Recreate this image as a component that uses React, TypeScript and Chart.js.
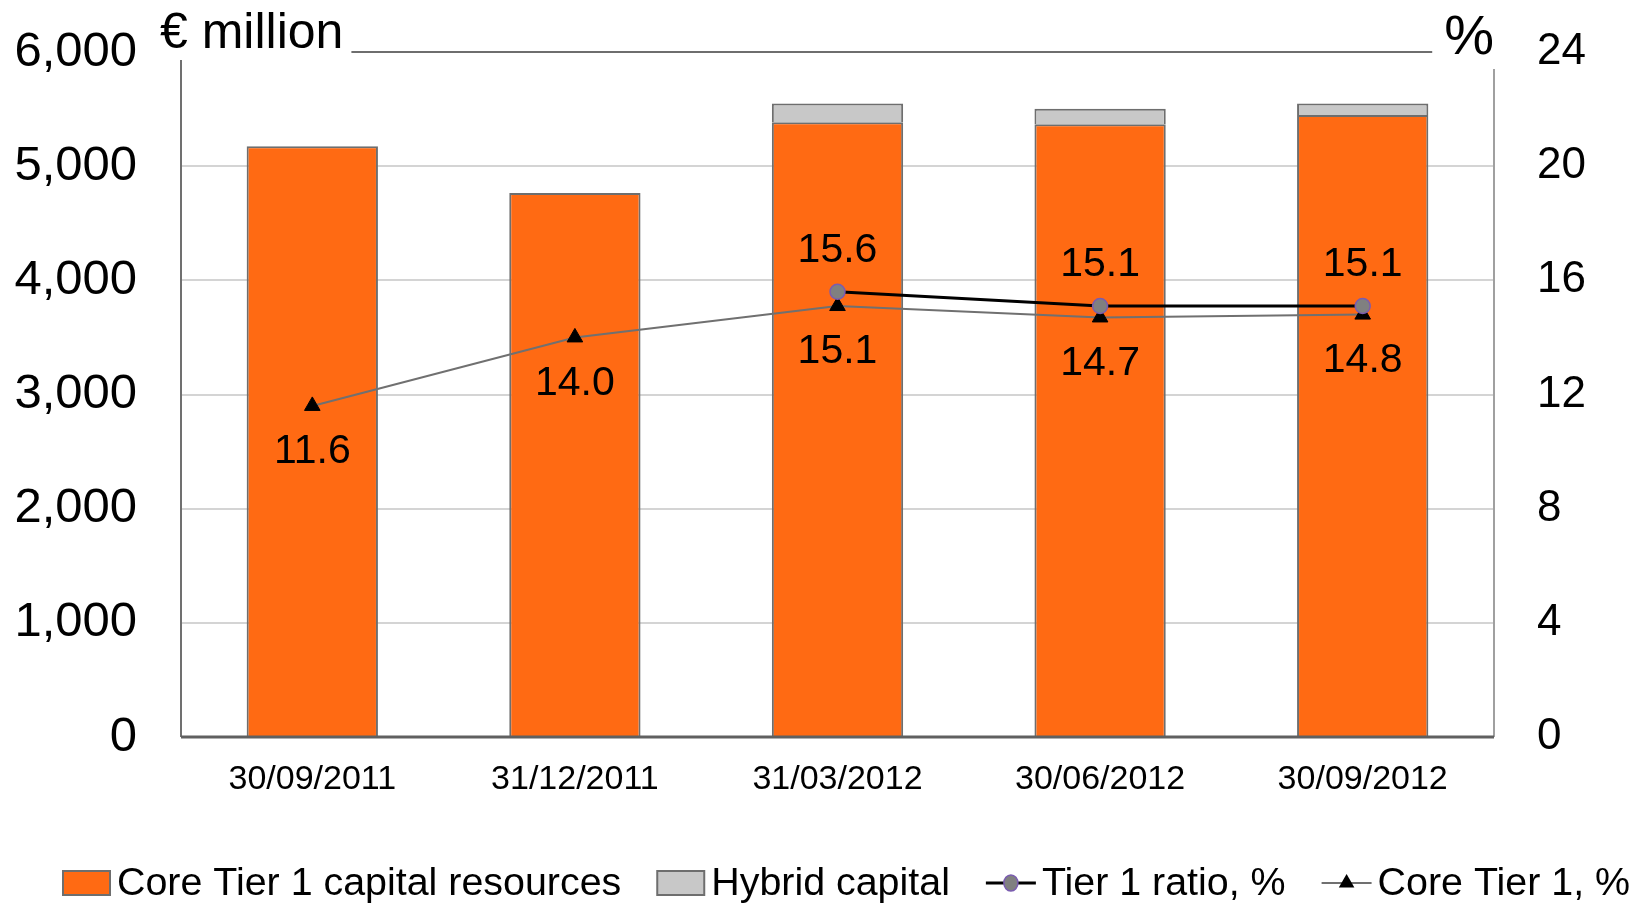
import React, { useEffect, useRef } from 'react';
import { Chart, registerables } from 'chart.js';

Chart.register(...registerables);

const categories = ['30/09/2011', '31/12/2011', '31/03/2012', '30/06/2012', '30/09/2012'];
const coreTier1Capital = [5175, 4765, 5385, 5368, 5449];
const hybridCapital = [null, null, 164, 134, 100];
const tier1Ratio = [null, null, 15.6, 15.1, 15.1];
const coreTier1Ratio = [11.6, 14.0, 15.1, 14.7, 14.8];
const leftAxis = { min: 0, max: 6000, step: 1000 };
const rightAxis = { min: 0, max: 24, step: 4 };
const leftTitle = '€ million';
const rightTitle = '%';

const FONT = '"Liberation Sans", Arial, sans-serif';
const ORANGE = '#FF6A13';
const HYBRID = '#C8C8C8';
const EDGE = '#6E6E6E';

const overlayPlugin = {
  id: 'overlay',
  afterDatasetsDraw(chart: any) {
    const ctx = chart.ctx;
    const area = chart.chartArea;
    const y = chart.scales.y;
    ctx.save();
    // axis borders
    ctx.strokeStyle = '#707070';
    ctx.lineWidth = 2;
    ctx.beginPath();
    ctx.moveTo(area.left, area.top + 8);
    ctx.lineTo(area.left, area.bottom);
    ctx.stroke();
    ctx.strokeStyle = '#A0A0A0';
    ctx.beginPath();
    ctx.moveTo(area.right, area.top + 17);
    ctx.lineTo(area.right, area.bottom);
    ctx.stroke();
    ctx.strokeStyle = '#606060';
    ctx.lineWidth = 3;
    ctx.beginPath();
    ctx.moveTo(area.left, area.bottom);
    ctx.lineTo(area.right, area.bottom);
    ctx.stroke();

    // titles + top line
    const topY = y.getPixelForValue(leftAxis.max);
    ctx.fillStyle = '#000';
    ctx.textBaseline = 'alphabetic';
    ctx.font = `50px ${FONT}`;
    ctx.textAlign = 'left';
    const ltX = area.left - 21;
    ctx.fillText(leftTitle, ltX, topY - 4);
    const ltW = ctx.measureText(leftTitle).width;
    ctx.font = `56px ${FONT}`;
    ctx.textAlign = 'right';
    ctx.fillText(rightTitle, area.right, topY + 2);
    const rtW = ctx.measureText(rightTitle).width;
    ctx.strokeStyle = '#6E6E6E';
    ctx.lineWidth = 2;
    ctx.beginPath();
    ctx.moveTo(ltX + ltW + 8, topY);
    ctx.lineTo(area.right - rtW - 12, topY);
    ctx.stroke();

    // data labels
    ctx.font = `41px ${FONT}`;
    ctx.textAlign = 'center';
    ctx.textBaseline = 'middle';
    ctx.fillStyle = '#000';
    const lines = [
      { idx: 2, vals: tier1Ratio, off: -41 },
      { idx: 3, vals: coreTier1Ratio, off: 46 },
    ];
    lines.forEach((l) => {
      const meta = chart.getDatasetMeta(l.idx);
      meta.data.forEach((pt: any, i: number) => {
        const v = l.vals[i];
        if (v === null || v === undefined) return;
        ctx.fillText(v.toFixed(1), pt.x, pt.y + l.off);
      });
    });
    ctx.restore();
  },
  afterDraw(chart: any) {
    const ctx = chart.ctx;
    const ds = chart.data.datasets;
    const cy = 883;
    let x = 63;
    ctx.save();
    ctx.font = `39.4px ${FONT}`;
    ctx.textBaseline = 'middle';
    ctx.textAlign = 'left';
    ds.forEach((d: any) => {
      if (d.type === 'bar') {
        ctx.fillStyle = d.backgroundColor;
        ctx.fillRect(x, cy - 12, 47, 24);
        ctx.strokeStyle = EDGE;
        ctx.lineWidth = 2;
        ctx.strokeRect(x, cy - 12, 47, 24);
        x += 47 + 7;
      } else {
        ctx.strokeStyle = d.borderColor;
        ctx.lineWidth = d.borderWidth;
        ctx.beginPath();
        ctx.moveTo(x, cy);
        ctx.lineTo(x + 50, cy);
        ctx.stroke();
        const px = x + 25;
        if (d.pointStyle === 'triangle') {
          const r = d.pointRadius;
          ctx.fillStyle = d.pointBackgroundColor;
          ctx.beginPath();
          ctx.moveTo(px, cy - r);
          ctx.lineTo(px + r * 0.866, cy + r * 0.5);
          ctx.lineTo(px - r * 0.866, cy + r * 0.5);
          ctx.closePath();
          ctx.fill();
        } else {
          ctx.fillStyle = d.pointBackgroundColor;
          ctx.strokeStyle = d.pointBorderColor;
          ctx.lineWidth = d.pointBorderWidth;
          ctx.beginPath();
          ctx.ellipse(px, cy, 7, 8, 0, 0, Math.PI * 2);
          ctx.fill();
          ctx.stroke();
        }
        x += 50 + 6;
      }
      ctx.fillStyle = '#000';
      ctx.fillText(d.label, x, cy + 1);
      x += ctx.measureText(d.label).width + 36;
    });
    ctx.restore();
  },
};

export default function App() {
  const ref = useRef<HTMLCanvasElement>(null);
  useEffect(() => {
    document.body.style.margin = '0';
    const canvas = ref.current!;
    const chart = new Chart(canvas, {
      type: 'bar',
      data: {
        labels: categories,
        datasets: [
          {
            type: 'bar',
            label: 'Core Tier 1 capital resources',
            data: coreTier1Capital,
            backgroundColor: ORANGE,
            borderColor: EDGE,
            borderWidth: 2,
            yAxisID: 'y',
            order: 1,
            categoryPercentage: 0.5,
            barPercentage: 1,
          },
          {
            type: 'bar',
            label: 'Hybrid capital',
            data: hybridCapital,
            backgroundColor: HYBRID,
            borderColor: EDGE,
            borderWidth: 2,
            yAxisID: 'y',
            order: 1,
            categoryPercentage: 0.5,
            barPercentage: 1,
          },
          {
            type: 'line',
            label: 'Tier 1 ratio, %',
            data: tier1Ratio,
            borderColor: '#000000',
            borderWidth: 3,
            pointStyle: 'circle',
            pointRadius: 7.5,
            pointBackgroundColor: '#808080',
            pointBorderColor: '#7A5CB0',
            pointBorderWidth: 1.5,
            yAxisID: 'y1',
            order: 0,
          },
          {
            type: 'line',
            label: 'Core Tier 1, %',
            data: coreTier1Ratio,
            borderColor: '#707070',
            borderWidth: 2,
            pointStyle: 'triangle',
            pointRadius: 9,
            pointBackgroundColor: '#000000',
            pointBorderColor: '#000000',
            pointBorderWidth: 1,
            yAxisID: 'y1',
            order: 0,
          },
        ] as any,
      },
      options: {
        responsive: false,
        animation: false,
        devicePixelRatio: 1,
        layout: { padding: { top: 52, bottom: 90, left: 0, right: 0 } },
        plugins: {
          legend: { display: false },
          tooltip: { enabled: false },
        },
        scales: {
          x: {
            stacked: true,
            grid: { display: false, drawTicks: false },
            border: { display: false },
            ticks: { color: '#000', font: { family: FONT, size: 34 }, padding: 22, maxRotation: 0 },
            afterFit: (s: any) => { s.height = 80; },
          },
          y: {
            stacked: true,
            position: 'left',
            min: leftAxis.min,
            max: leftAxis.max,
            ticks: {
              stepSize: leftAxis.step,
              color: '#000',
              font: { family: FONT, size: 49 },
              padding: 44,
              callback: (v: any) => Number(v).toLocaleString('en-US'),
            },
            grid: {
              drawTicks: false,
              lineWidth: 2,
              color: (c: any) => (c.tick && c.tick.value === leftAxis.max ? 'rgba(0,0,0,0)' : '#D4D4D4'),
            },
            border: { display: false },
            afterFit: (s: any) => { s.width = 181; s.paddingTop = 0; s.paddingBottom = 0; },
          },
          y1: {
            position: 'right',
            min: rightAxis.min,
            max: rightAxis.max,
            ticks: {
              stepSize: rightAxis.step,
              color: '#000',
              font: { family: FONT, size: 44 },
              padding: 43,
            },
            grid: { display: false, drawTicks: false },
            border: { display: false },
            afterFit: (s: any) => { s.width = 152; s.paddingTop = 0; s.paddingBottom = 0; },
          },
        },
      } as any,
      plugins: [overlayPlugin],
    });
    return () => chart.destroy();
  }, []);
  return (
    <div style={{ width: 1646, height: 907, background: '#fff' }}>
      <canvas ref={ref} width={1646} height={907} style={{ display: 'block' }} />
    </div>
  );
}
